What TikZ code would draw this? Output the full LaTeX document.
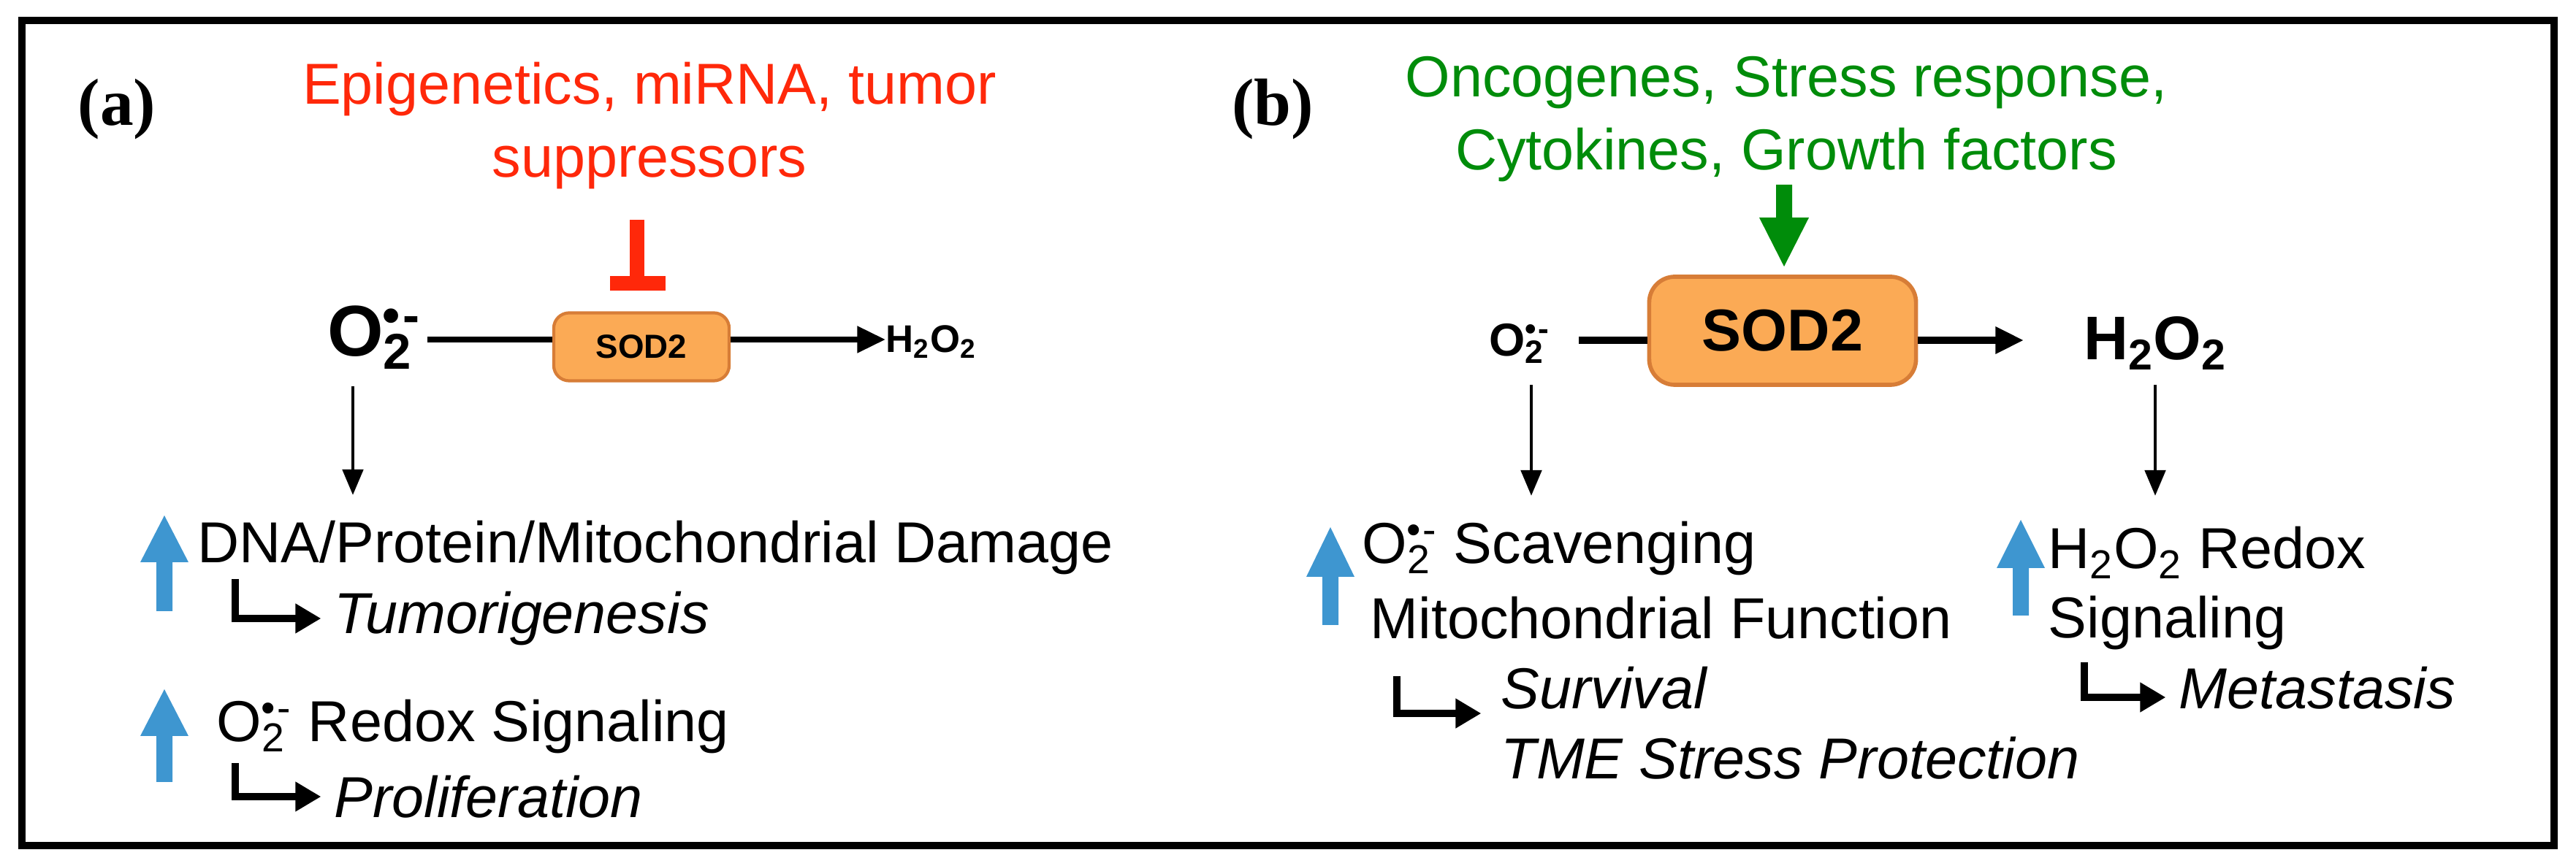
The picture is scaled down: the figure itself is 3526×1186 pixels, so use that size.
\documentclass[tikz,border=0pt]{standalone}
\usepackage{fontspec}
\setmainfont{Liberation Sans}
\newfontfamily\serifb{Liberation Serif}
\usetikzlibrary{arrows.meta}
\definecolor{myred}{RGB}{255,40,10}
\definecolor{mygreen}{RGB}{0,140,10}
\definecolor{myblue}{RGB}{62,150,208}
\definecolor{myorange}{RGB}{251,170,85}
\definecolor{myorangeb}{RGB}{215,125,55}
\newcommand{\supox}[1]{O\textsubscript{2}\kern-0.42em\textsuperscript{\textbullet\kern0.05em-}}
\newcommand{\hto}{H\textsubscript{2}O\textsubscript{2}}
\begin{document}
\begin{tikzpicture}[x=0.01cm,y=-0.01cm,
  txt/.style={font=\fontsize{22.5}{26}\selectfont, inner sep=0pt, anchor=west},
  itx/.style={font=\fontsize{22.5}{26}\selectfont\itshape, inner sep=0pt, anchor=west},
  arr/.style={line width=1.4pt,-{Triangle[length=10pt,width=8pt]}},
  rline/.style={line width=2.2pt},
  rarr/.style={line width=2.2pt,-{Triangle[length=11pt,width=10pt]}},
  hook/.style={line width=2.6pt,-{Triangle[length=10pt,width=11pt]}, shorten >=5pt},
  sod/.style={draw=myorangeb, fill=myorange, rounded corners=6pt, line width=1.2pt, font=\bfseries},
  lab/.style={font=\fontsize{26}{30}\selectfont\serifb\bfseries, inner sep=0pt},
  bluearrow/.style={fill=myblue}
]
\useasboundingbox (0,0) rectangle (3526,1186);
\draw[line width=2.8pt] (30,28) rectangle (3496,1158);
% labels
\node[lab] (la) at (160,150) {(a)};
\node[lab] (lb) at (1742,150) {(b)};
% ---- panel (a)
\node[font=\fontsize{22.5}{28.5}\selectfont, text=myred, align=center] (reg) at (889,172) {Epigenetics, miRNA, tumor\\suppressors};
\node[sod, minimum width=2.4cm, minimum height=0.93cm, font=\fontsize{13}{15}\selectfont\bfseries] (soda) at (878,475) {SOD2};
\node[font=\fontsize{28}{30}\selectfont\bfseries, inner sep=0pt] (o2a) at (512,462) {\supox{}};
\node[font=\fontsize{15}{17}\selectfont\bfseries, inner sep=0pt, anchor=west] (h2a) at (1212,468) {\hto};
\coordinate (inhtop) at (872,301);
\coordinate (inhbot) at (872,388);
\draw[myred, line width=5.7pt] (inhtop) -- (inhbot);
\draw[myred, line width=5.7pt] (835,388) -- (911,388);
\coordinate (o2aE) at (585,465);
\draw[rline] (o2aE) -- (soda.west |- o2aE);
\draw[rarr] (soda.east |- o2aE) -- (h2a.west |- o2aE);
\node[txt] (dna) at (270,750) {DNA/Protein/Mitochondrial Damage};
\coordinate (da1) at (483,529);
\draw[arr] (da1) -- (483,678);
\fill[bluearrow] (214,837) -- (236,837) -- (236,770) -- (258,770) -- (225,706) -- (192,770) -- (214,770) -- cycle;
\node[itx] (tum) at (457,847) {Tumorigenesis};
\coordinate (h1) at (322,793);
\draw[hook] (h1) -- (322,847) -- (tum.west);
\fill[bluearrow] (214,1071) -- (236,1071) -- (236,1008) -- (258,1008) -- (225,944) -- (192,1008) -- (214,1008) -- cycle;
\node[txt] (redox) at (296,995) {\supox{} Redox Signaling};
\node[itx] (prol) at (457,1091) {Proliferation};
\coordinate (h2) at (322,1045);
\draw[hook] (h2) -- (322,1091) -- (prol.west);
% ---- panel (b)
\node[font=\fontsize{22.5}{28.5}\selectfont, text=mygreen, align=center] (act) at (2445,163) {Oncogenes, Stress response,\\Cytokines, Growth factors};
\node[sod, minimum width=3.65cm, minimum height=1.48cm, rounded corners=10pt, line width=1.6pt, font=\fontsize{23}{25}\selectfont\bfseries] (sodb) at (2440,453) {SOD2};
\fill[mygreen] (2431,253) -- (2453,253) -- (2453,298) -- (2476,298) -- (2442,365) -- (2408,298) -- (2431,298) -- cycle;
\node[font=\fontsize{18}{20}\selectfont\bfseries, inner sep=0pt] (o2b) at (2080,470) {\supox{}};
\node[font=\fontsize{24}{26}\selectfont\bfseries, inner sep=0pt] (h2b) at (2950,470) {\hto};
\coordinate (o2bE) at (2161,466);
\draw[rline, line width=2.6pt] (o2bE) -- (sodb.west |- o2bE);
\draw[rarr, line width=2.6pt] (sodb.east |- o2bE) -- (2770,466);
\coordinate (db1) at (2096,527);
\draw[arr] (db1) -- (2096,679);
\coordinate (db2) at (2950,527);
\draw[arr] (db2) -- (2950,679);
\fill[bluearrow] (1810,856) -- (1832,856) -- (1832,790) -- (1854,790) -- (1821,722) -- (1788,790) -- (1810,790) -- cycle;
\node[txt] (scav) at (1864,751) {\supox{} Scavenging};
\node[txt] (mito) at (1875,846) {Mitochondrial Function};
\node[itx] (surv) at (2054,942) {Survival};
\node[itx] (tme) at (2054,1038) {TME Stress Protection};
\coordinate (h3) at (1912,926);
\draw[hook] (h3) -- (1912,977) -- (2045,977);
\fill[bluearrow] (2755,843) -- (2777,843) -- (2777,778) -- (2799,778) -- (2766,712) -- (2733,778) -- (2755,778) -- cycle;
\node[txt] (hred) at (2803,757) {\hto{} Redox};
\node[txt] (sig) at (2803,853) {Signaling};
\node[itx] (meta) at (2982,942) {Metastasis};
\coordinate (h4) at (2853,907);
\draw[hook] (h4) -- (2853,955) -- (meta.west |- 0,955);
\end{tikzpicture}
\end{document}
